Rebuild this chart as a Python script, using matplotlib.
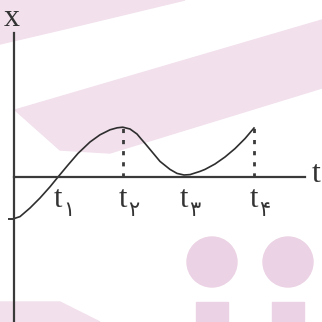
import matplotlib.pyplot as plt
from matplotlib.patches import Polygon, Circle, Rectangle

# position-time curve
t = [0, 0.15, 0.4, 0.65, 0.9, 1.1, 1.35, 1.6, 1.9, 2.15, 2.4, 2.58, 2.72,
     2.9, 3.075, 3.175, 3.275, 3.4, 3.65, 3.9, 4.075, 4.25, 4.4, 4.65, 4.775,
     5.025, 5.275, 5.525, 5.775, 6.0]
x = [-1.04, -0.99, -0.775, -0.525, -0.245, 0.0, 0.3, 0.59, 0.875, 1.055, 1.18, 1.23, 1.245,
     1.2, 1.075, 0.955, 0.84, 0.69, 0.39, 0.19, 0.09, 0.05, 0.06, 0.14, 0.19,
     0.325, 0.5, 0.71, 0.96, 1.225]

# marked times on the t axis
tick_t = [1.1, 2.72, 4.25, 6.0]
tick_sub = ["۱", "۲", "۳", "۴"]
dashed_t = [2.72, 6.0]
dashed_x = [1.245, 1.225]
x_start = -1.04

fig = plt.figure(figsize=(3.22, 3.22), dpi=100)

# faint pink watermark in the background (pixel coords -> figure fraction)
def px(pts):
    return [(a / 322, 1 - b / 322) for a, b in pts]

wm = "#f2e0ec"
wm2 = "#ebd2e4"
shapes = [
    Polygon(px([(0, 0), (185, 0), (60, 30), (0, 44)]), closed=True, color=wm),
    Polygon(px([(15, 110), (322, 20), (322, 88), (110, 153), (60, 150)]), closed=True, color=wm),
    Polygon(px([(0, 302), (60, 302), (100, 322), (0, 322)]), closed=True, color=wm),
]
for cx in [212, 288]:
    shapes.append(Circle((cx / 322, 1 - 262 / 322), 25 / 322, color=wm2))
    shapes.append(Rectangle(((cx - 16) / 322, 0), 32 / 322, 20 / 322, color=wm2))
for s in shapes:
    s.set_transform(fig.transFigure)
    s.set_zorder(-5)
    fig.patches.append(s)

ax = fig.add_axes([0, 0, 1, 1])
ax.set_zorder(2)
ax.set_facecolor("none")
ax.set_xlim(-0.35, 7.7)
ax.set_ylim(-3.625, 4.425)

# axes through the origin
ax.spines["top"].set_visible(False)
ax.spines["right"].set_visible(False)
ax.spines["left"].set_position(("data", 0))
ax.spines["bottom"].set_position(("data", 0))
ax.spines["left"].set_bounds(-3.625, 3.6)
ax.spines["bottom"].set_bounds(0, 7.28)
for s in ["left", "bottom"]:
    ax.spines[s].set_color("#3a3a3a")
    ax.spines[s].set_linewidth(1.6)

ax.set_xticks([])
ax.set_yticks([x_start])
ax.set_yticklabels([])
ax.tick_params(axis="y", direction="out", length=4, width=1.4, color="#3a3a3a")

ax.plot(t, x, color="#2e2e2e", linewidth=1.2)
for tt, xx in zip(dashed_t, dashed_x):
    ax.plot([tt, tt], [0, xx], color="#3a3a3a", linewidth=2.0, linestyle=(0, (1.5, 2.5)))

serif = ["Liberation Serif", "DejaVu Serif"]
for tt, sub in zip(tick_t, tick_sub):
    ax.annotate("t", (tt, 0), xytext=(0, -16), textcoords="offset points",
                ha="center", va="center", fontsize=22, family=serif, color="#333333")
    ax.annotate(sub, (tt, 0), xytext=(8, -24), textcoords="offset points",
                ha="center", va="center", fontsize=15, family=["DejaVu Sans"], color="#333333")

ax.text(-0.05, 3.95, "x", ha="center", va="center", fontsize=23, family=serif, color="#333333")
ax.text(7.55, 0.05, "t", ha="center", va="center", fontsize=23, family=serif, color="#333333")

plt.savefig("out.png", dpi=100)
